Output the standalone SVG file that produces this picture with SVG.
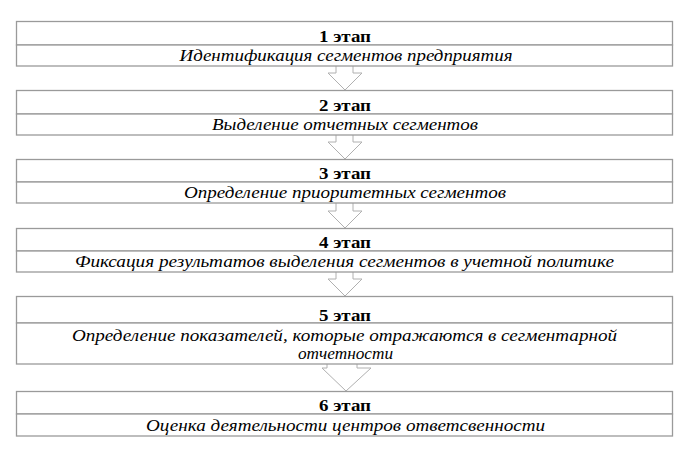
<svg xmlns="http://www.w3.org/2000/svg" width="692" height="456" viewBox="0 0 692 456">
<style>
.box{fill:#fff;stroke:#9a9a9a;stroke-width:1.3}
.arr{fill:#fff;stroke:#b0b0b0;stroke-width:1}
.h{font-family:"Liberation Serif","Times New Roman",serif;font-weight:bold;font-size:16px;text-anchor:middle;fill:#000}
.t{font-family:"Liberation Serif","Times New Roman",serif;font-style:italic;font-size:16px;text-anchor:middle;fill:#000}
</style>
<rect width="692" height="456" fill="#fff"/>
<g id="connectors">
<path class="arr" d="M336,66 V73 H328 L345,90 L362,73 H353 V66"/>
<path class="arr" d="M336,135 V142 H328 L345,159 L362,142 H353 V135"/>
<path class="arr" d="M336,203 V211 H328 L345,228 L362,211 H353 V203"/>
<path class="arr" d="M336,272 V279 H328 L345,296 L362,279 H353 V272"/>
<path class="arr" d="M327,364 V368 H322 L346,391 L371,368 H357 V364"/>
</g>
<g id="stage1">
<rect class="box" x="16.5" y="21.5" width="656" height="23.5"/>
<text class="h" x="345" y="41.5" textLength="52" lengthAdjust="spacingAndGlyphs">1 этап</text>
<rect class="box" x="16.5" y="45" width="656" height="21"/>
<text class="t" x="346" y="61" textLength="333" lengthAdjust="spacingAndGlyphs">Идентификация сегментов  предприятия</text>
</g>
<g id="stage2">
<rect class="box" x="16.5" y="90.5" width="656" height="23.5"/>
<text class="h" x="345" y="110.5" textLength="52" lengthAdjust="spacingAndGlyphs">2 этап</text>
<rect class="box" x="16.5" y="114" width="656" height="21"/>
<text class="t" x="345" y="130" textLength="266" lengthAdjust="spacingAndGlyphs">Выделение отчетных сегментов</text>
</g>
<g id="stage3">
<rect class="box" x="16.5" y="159.5" width="656" height="22.5"/>
<text class="h" x="345" y="178.5" textLength="52" lengthAdjust="spacingAndGlyphs">3 этап</text>
<rect class="box" x="16.5" y="182" width="656" height="21"/>
<text class="t" x="345" y="198" textLength="322" lengthAdjust="spacingAndGlyphs">Определение приоритетных сегментов</text>
</g>
<g id="stage4">
<rect class="box" x="16.5" y="228.5" width="656" height="22.5"/>
<text class="h" x="345" y="247.5" textLength="52" lengthAdjust="spacingAndGlyphs">4 этап</text>
<rect class="box" x="16.5" y="251" width="656" height="21"/>
<text class="t" x="344.5" y="267" textLength="539" lengthAdjust="spacingAndGlyphs">Фиксация результатов выделения сегментов  в учетной политике</text>
</g>
<g id="stage5">
<rect class="box" x="16.5" y="296.5" width="656" height="26.5"/>
<text class="h" x="345" y="321" textLength="52" lengthAdjust="spacingAndGlyphs">5 этап</text>
<rect class="box" x="16.5" y="323" width="656" height="41"/>
<text class="t" x="344.5" y="341" textLength="545" lengthAdjust="spacingAndGlyphs">Определение показателей, которые отражаются в сегментарной</text>
<text class="t" x="345.5" y="359" textLength="95" lengthAdjust="spacingAndGlyphs">отчетности</text>
</g>
<g id="stage6">
<rect class="box" x="16.5" y="391.5" width="656" height="22.5"/>
<text class="h" x="345" y="410.5" textLength="52" lengthAdjust="spacingAndGlyphs">6 этап</text>
<rect class="box" x="16.5" y="414" width="656" height="22"/>
<text class="t" x="345.5" y="431" textLength="399" lengthAdjust="spacingAndGlyphs">Оценка деятельности центров ответсвенности</text>
</g>
</svg>
